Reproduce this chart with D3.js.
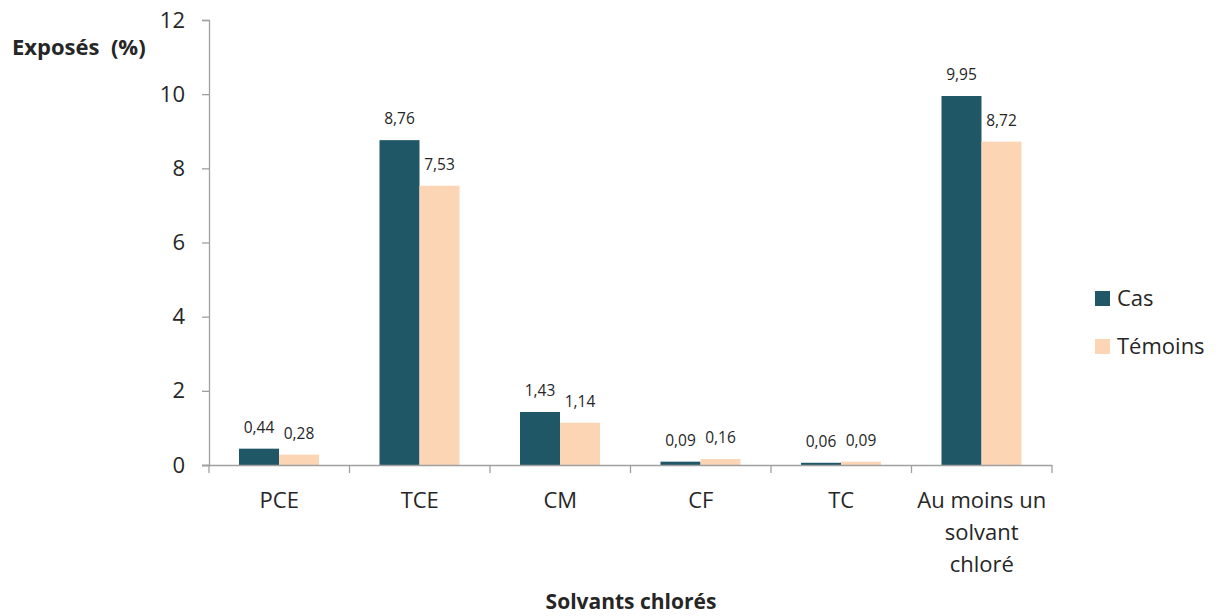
<!DOCTYPE html>
<html><head><meta charset="utf-8">
<script src="https://cdn.jsdelivr.net/npm/d3@7/dist/d3.min.js"></script>
<style>body{margin:0;background:#fff;} text{font-family:"Open Sans",Lato,sans-serif;fill:#262626;}</style>
</head><body>
<svg id="c" width="1221" height="616"></svg>
<script>
const categories = [["PCE"],["TCE"],["CM"],["CF"],["TC"],["Au moins un","solvant","chloré"]];
const catKeys = ["PCE","TCE","CM","CF","TC","Au moins un solvant chloré"];
const cas = [0.44, 8.76, 1.43, 0.09, 0.06, 9.95];
const temoins = [0.28, 7.53, 1.14, 0.16, 0.09, 8.72];
const seriesNames = ["Cas","Témoins"];
const colors = ["#1F5767","#FCD5B5"];
const yTicks = [0,2,4,6,8,10,12];

(function(){
const svg = d3.select("#c");
const left = 209, right = 1052, topY = 20, bottom = 465;
const x = d3.scaleBand().domain(catKeys).range([left, right]).paddingInner(0).paddingOuter(0);
const x1 = d3.scaleBand().domain(seriesNames).range([30, 110]);
const y = d3.scaleLinear().domain([0,12]).range([bottom, topY]);

// y axis
const yAxis = svg.append("g").attr("transform",`translate(${left},0)`)
  .call(d3.axisLeft(y).tickValues(yTicks).tickSize(7).tickPadding(17).tickFormat(d3.format("d")));
yAxis.select(".domain").attr("stroke","#a0a0a0").attr("stroke-width",1.3);
yAxis.selectAll(".tick line").attr("stroke","#a0a0a0").attr("stroke-width",1.3);
yAxis.selectAll(".tick text").style("font-size","22px").attr("fill","#262626").style("font-family","'Open Sans'");

// bars
const data = catKeys.map((k,i)=>({k, vals:[cas[i], temoins[i]]}));
const g = svg.append("g");
data.forEach(d=>{
  d.vals.forEach((v,j)=>{
    const bx = x(d.k) + x1(seriesNames[j]);
    g.append("rect").attr("x",bx).attr("width",x1.bandwidth())
      .attr("y",y(v)).attr("height",bottom - y(v)).attr("fill",colors[j]);
    g.append("text").attr("x",bx + x1.bandwidth()/2).attr("y",y(v)-16)
      .attr("text-anchor","middle").style("font-size","15.5px")
      .text(v.toFixed(2).replace(".",","));
  });
});

// x axis
const xAxis = svg.append("g").attr("transform",`translate(0,${bottom})`)
  .call(d3.axisBottom(x).tickSize(0).tickFormat(""));
xAxis.select(".domain").attr("stroke","#a0a0a0").attr("stroke-width",1.3).attr("d",`M${left-7},0.5H${right}`);
const bounds = catKeys.map(k=>x(k)).concat([right]);
bounds.forEach(b=>{
  svg.append("line").attr("x1",b).attr("x2",b).attr("y1",bottom).attr("y2",bottom+8)
    .attr("stroke","#a0a0a0").attr("stroke-width",1.3);
});
categories.forEach((lines,i)=>{
  const cx = x(catKeys[i])+x.bandwidth()/2;
  const t = svg.append("text").attr("x",cx).attr("y",508)
    .attr("text-anchor","middle").style("font-size","22px");
  lines.forEach((l,j)=>t.append("tspan").attr("x",cx).attr("dy", j===0?0:32).text(l));
});

// titles
svg.append("text").attr("x",12).attr("y",55).style("font-size","22px").style("font-weight","bold").style("white-space","pre").text("Exposés  (%)");
svg.append("text").attr("x",631).attr("y",609).attr("text-anchor","middle").style("font-size","21px").style("font-weight","bold").text("Solvants chlorés");

// legend
seriesNames.forEach((s,i)=>{
  const base = 306 + i*48;
  svg.append("rect").attr("x",1095).attr("y",base-15).attr("width",15).attr("height",15).attr("fill",colors[i]);
  svg.append("text").attr("x",1117).attr("y",base).style("font-size","22px").text(s);
});
})();
</script>
</body></html>
